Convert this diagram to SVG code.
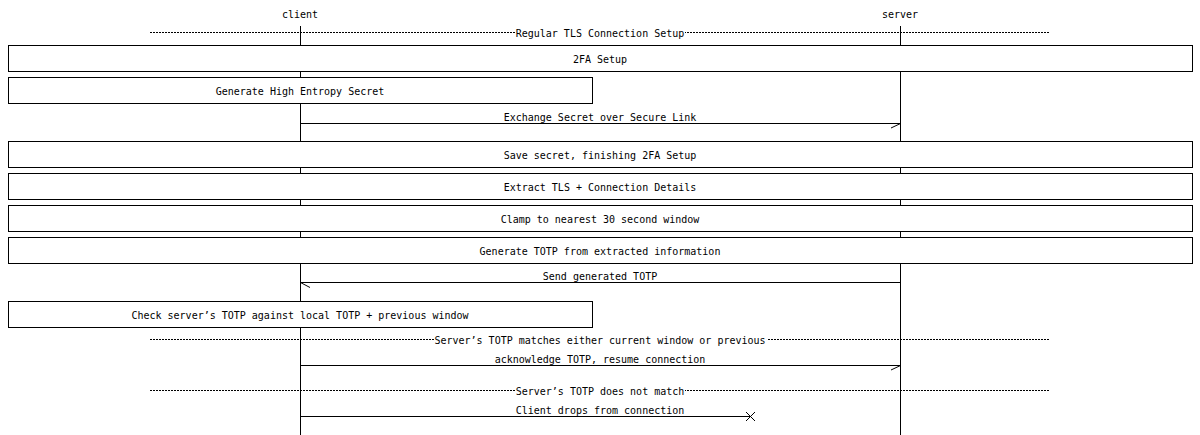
<svg xmlns="http://www.w3.org/2000/svg" width="1200" height="435" viewBox="0 0 1200 435">
<style>
text{font-family:"DejaVu Sans Mono","Liberation Mono",monospace;font-size:10px;fill:#000;text-anchor:middle}
.life{stroke:#000;stroke-width:1;fill:none}
.box{fill:#fff;stroke:#000;stroke-width:1}
.msg{stroke:#000;stroke-width:1;fill:none}
.sep{stroke:#000;stroke-width:1;stroke-dasharray:2,1;fill:none}
.bg{fill:#fff}
</style>
<rect width="1200" height="435" fill="#fff"/>
<g id="lifelines">
<g id="client"><text x="300" y="18">client</text><line class="life" x1="300.5" y1="26" x2="300.5" y2="435"/></g>
<g id="server"><text x="900" y="18">server</text><line class="life" x1="900.5" y1="26" x2="900.5" y2="435"/></g>
</g>
<g id="sep1"><line class="sep" x1="150" y1="32.5" x2="1050" y2="32.5"/><rect class="bg" x="515" y="27" width="170" height="11"/><text x="600" y="37">Regular TLS Connection Setup</text></g>
<g id="n-2fa"><rect class="box" x="8.5" y="45.5" width="1184" height="26"/><text x="600" y="63">2FA Setup</text></g>
<g id="n-gen"><rect class="box" x="8.5" y="77.5" width="584" height="26"/><text x="300" y="95">Generate High Entropy Secret</text></g>
<g id="n-save"><rect class="box" x="8.5" y="141.5" width="1184" height="26"/><text x="600" y="159">Save secret, finishing 2FA Setup</text></g>
<g id="n-extract"><rect class="box" x="8.5" y="173.5" width="1184" height="26"/><text x="600" y="191">Extract TLS + Connection Details</text></g>
<g id="n-clamp"><rect class="box" x="8.5" y="205.5" width="1184" height="26"/><text x="600" y="223">Clamp to nearest 30 second window</text></g>
<g id="n-totp"><rect class="box" x="8.5" y="237.5" width="1184" height="26"/><text x="600" y="255">Generate TOTP from extracted information</text></g>
<g id="n-check"><rect class="box" x="8.5" y="301.5" width="584" height="26"/><text x="300" y="319">Check server’s TOTP against local TOTP + previous window</text></g>
<g id="sep2"><line class="sep" x1="150" y1="339.5" x2="1050" y2="339.5"/><rect class="bg" x="434" y="334" width="333" height="11"/><text x="600" y="344">Server’s TOTP matches either current window or previous</text></g>
<g id="sep3"><line class="sep" x1="150" y1="390.5" x2="1050" y2="390.5"/><rect class="bg" x="515" y="385" width="170" height="11"/><text x="600" y="395">Server’s TOTP does not match</text></g>
<g id="connectors">
<g id="m1"><line class="msg" x1="300.5" y1="123.5" x2="900.5" y2="123.5"/><line class="msg" x1="900.5" y1="123.5" x2="891" y2="128"/><text x="600" y="121">Exchange Secret over Secure Link</text></g>
<g id="m2"><line class="msg" x1="900.5" y1="282.5" x2="300.5" y2="282.5"/><line class="msg" x1="300.5" y1="282.5" x2="310" y2="287.5"/><text x="600" y="280">Send generated TOTP</text></g>
<g id="m3"><line class="msg" x1="300.5" y1="365.5" x2="900.5" y2="365.5"/><line class="msg" x1="900.5" y1="365.5" x2="891" y2="370"/><text x="600" y="363">acknowledge TOTP, resume connection</text></g>
<g id="m4"><line class="msg" x1="300.5" y1="416.5" x2="750.5" y2="416.5"/><path class="msg" d="M746 412 L755 421 M755 412 L746 421"/><text x="600" y="414">Client drops from connection</text></g>
</g>
</svg>
